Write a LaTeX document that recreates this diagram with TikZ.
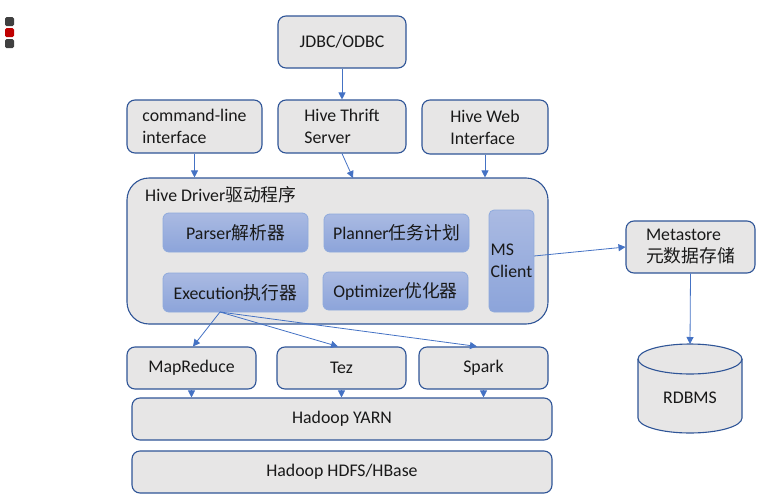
\documentclass[tikz,border=0pt]{standalone}
\usepackage{fontspec}
\setmainfont{Carlito}
\newfontfamily\cjk{Noto Sans CJK SC}
\usetikzlibrary{arrows.meta,calc}
\definecolor{boxfill}{HTML}{E7E6E6}
\definecolor{boxline}{HTML}{2F5597}
\definecolor{arrowc}{HTML}{4472C4}
\definecolor{innertop}{HTML}{AABAE2}
\definecolor{innerbot}{HTML}{8CA4DA}
\definecolor{innerline}{HTML}{8FAADC}
\definecolor{icongray}{HTML}{404040}
\definecolor{iconred}{HTML}{C00000}
\tikzset{
  lbl/.style={font=\fontsize{17.8}{22}\selectfont, text=black!90},
  gbox/.style={lbl, draw=boxline, line width=1.1pt, fill=boxfill, rounded corners=8pt, inner sep=0pt},
  ibox/.style={lbl, draw=innerline, line width=0.8pt, top color=innertop, bottom color=innerbot, rounded corners=6pt,
    inner sep=0pt},
  conn/.style={draw=arrowc, line width=0.8pt, -{Triangle[length=7pt,width=7pt]}},
  icon/.style={rounded corners=1.5pt, inner sep=0pt, minimum width=9pt, minimum height=9pt},
}
\begin{document}
\begin{tikzpicture}[x=1pt,y=-1pt]
\useasboundingbox (0,0) rectangle (774,498);
% window icons
\node[icon, fill=icongray] (ic1) at (9.5,21.5) {};
\node[icon, fill=iconred] (ic2) at (9.5,32.5) {};
\node[icon, fill=icongray] (ic3) at (9.5,43.5) {};
% top row
\node[gbox, minimum width=128pt, minimum height=52pt] (jdbc) at (342,42) {JDBC/ODBC};
\node[gbox, minimum width=135pt, minimum height=53pt, align=left] (cli) at (194.5,126.5) {command-line\\interface};
\node[gbox, minimum width=128pt, minimum height=53pt, align=left] (thrift) at (342,126.5) {Hive Thrift\\Server};
\node[gbox, minimum width=126pt, minimum height=54pt, align=left] (web) at (485,127) {Hive Web\\Interface};
% driver
\node[gbox, rounded corners=22pt, minimum width=421pt, minimum height=146pt] (driver) at (337.5,251) {};
\node[lbl, anchor=west, inner sep=0pt] (drvlabel) at (145,195) {Hive Driver{\cjk 驱动程序}};
\node[ibox, minimum width=145pt, minimum height=39pt] (parser) at (235.5,232.5) {Parser{\cjk 解析器}};
\node[ibox, minimum width=145pt, minimum height=38pt] (planner) at (396.5,233) {Planner{\cjk 任务计划}};
\node[ibox, minimum width=145pt, minimum height=39pt] (exec) at (235.5,292.5) {Execution{\cjk 执行器}};
\node[ibox, minimum width=145pt, minimum height=38pt] (optim) at (395.5,291) {Optimizer{\cjk 优化器}};
\node[ibox, rounded corners=5pt, minimum width=45pt, minimum height=102pt, align=left] (msc) at (511.5,261) {MS\\Client};
% metastore
\node[gbox, minimum width=129pt, minimum height=52pt, align=left] (meta) at (690.5,247) {Metastore\\{\cjk 元数据存储}};
% RDBMS cylinder
\fill[boxfill] (638,359) -- (638,418) arc[start angle=180, end angle=0, x radius=52, y radius=15] -- (742,359) arc[start angle=0, end angle=-180, x radius=52, y radius=15] -- cycle;
\draw[boxline, line width=1.1pt] (638,359) -- (638,418) arc[start angle=180, end angle=0, x radius=52, y radius=15] -- (742,359);
\draw[boxline, line width=1.1pt] (690,359) ellipse[x radius=52, y radius=15];
\node[lbl, inner sep=0pt] (rdbms) at (690,398) {RDBMS};
\coordinate (dbtop) at (690,344);
% engines
\node[gbox, minimum width=129pt, minimum height=42pt] (mr) at (191.5,368) {MapReduce};
\node[gbox, minimum width=129pt, minimum height=42pt] (tez) at (341.5,368) {Tez};
\node[gbox, minimum width=129pt, minimum height=42pt] (spark) at (483.5,368) {Spark};
\node[gbox, minimum width=420pt, minimum height=42pt] (yarn) at (342,419) {Hadoop YARN};
\node[gbox, minimum width=420pt, minimum height=42pt] (hdfs) at (342,472) {Hadoop HDFS/HBase};
% connectors
\draw[conn] (jdbc.south) -- (thrift.north);
\draw[conn] (cli.south) -- (cli.south |- driver.north);
\coordinate (thriftin) at (353,178);
\draw[conn] (thrift.south) -- (thriftin);
\draw[conn] (web.south) -- (web.south |- driver.north);
\coordinate (mscout) at (534,256);
\draw[conn] (mscout) -- (meta.west);
\draw[conn] (meta.south) -- (dbtop);
\coordinate (exo) at (220,312);
\draw[conn] (exo) -- ($(mr.north)+(1.5,0)$);
\draw[conn] (exo) -- ($(tez.north)+(-3.5,0)$);
\draw[conn] (exo) -- ($(spark.north)+(-6.5,0)$);
\draw[conn] (mr.south) -- (mr.south |- yarn.north);
\draw[conn] (tez.south) -- (tez.south |- yarn.north);
\draw[conn] (spark.south) -- (spark.south |- yarn.north);
\end{tikzpicture}
\end{document}
